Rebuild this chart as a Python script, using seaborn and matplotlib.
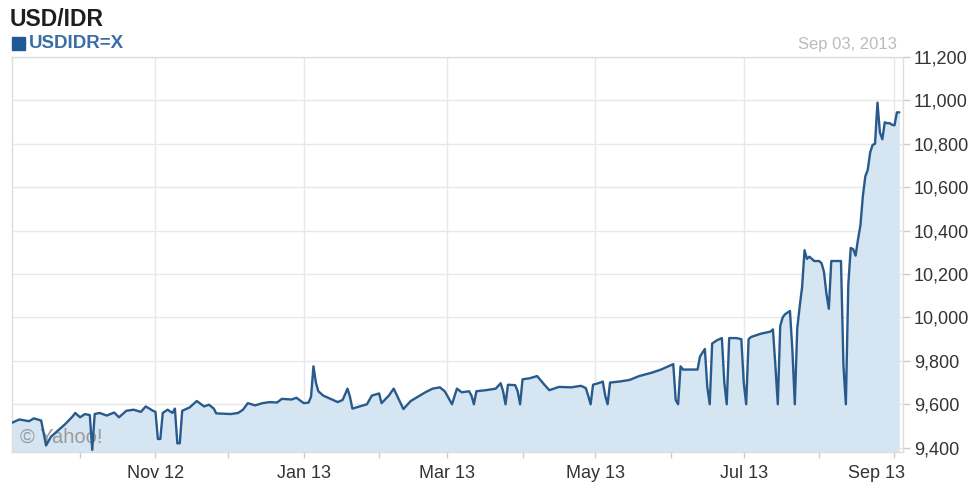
import pandas as pd
import matplotlib.pyplot as plt
import matplotlib.dates as mdates
import matplotlib.transforms as mtransforms
from matplotlib.ticker import FuncFormatter
from matplotlib.patches import Rectangle
import seaborn as sns

sns.set_style('white')
plt.rcParams['font.family'] = ['Liberation Sans', 'DejaVu Sans']

# USD/IDR daily quotes (Sep 2012 - Sep 2013)
dates = [
    '2012-09-03', '2012-09-06', '2012-09-10', '2012-09-12', '2012-09-14', '2012-09-15',
    '2012-09-17', '2012-09-19', '2012-09-22', '2012-09-25', '2012-09-28', '2012-09-29',
    '2012-10-01', '2012-10-03', '2012-10-05', '2012-10-06', '2012-10-07', '2012-10-09',
    '2012-10-12', '2012-10-15', '2012-10-17', '2012-10-20', '2012-10-23', '2012-10-26',
    '2012-10-28', '2012-10-31',
    '2012-11-01', '2012-11-02', '2012-11-03', '2012-11-04', '2012-11-06', '2012-11-08',
    '2012-11-09', '2012-11-10', '2012-11-11', '2012-11-12', '2012-11-15', '2012-11-18',
    '2012-11-21', '2012-11-23', '2012-11-25', '2012-11-26',
    '2012-12-02', '2012-12-05', '2012-12-07', '2012-12-09', '2012-12-12', '2012-12-15',
    '2012-12-18', '2012-12-21', '2012-12-23', '2012-12-27', '2012-12-29',
    '2013-01-01', '2013-01-03', '2013-01-04', '2013-01-05', '2013-01-06', '2013-01-07',
    '2013-01-09', '2013-01-12', '2013-01-15', '2013-01-17', '2013-01-19', '2013-01-20',
    '2013-01-21', '2013-01-24', '2013-01-27', '2013-01-29',
    '2013-02-01', '2013-02-02', '2013-02-05', '2013-02-07', '2013-02-09', '2013-02-11',
    '2013-02-14', '2013-02-17', '2013-02-20', '2013-02-23', '2013-02-26', '2013-02-28',
    '2013-03-02', '2013-03-03', '2013-03-05', '2013-03-07', '2013-03-10', '2013-03-11',
    '2013-03-12', '2013-03-13', '2013-03-17', '2013-03-21', '2013-03-23', '2013-03-24',
    '2013-03-25', '2013-03-26', '2013-03-29', '2013-03-30', '2013-03-31',
    '2013-04-01', '2013-04-04', '2013-04-07', '2013-04-10', '2013-04-12', '2013-04-16',
    '2013-04-21', '2013-04-25', '2013-04-27', '2013-04-28', '2013-04-29', '2013-04-30',
    '2013-05-03', '2013-05-04', '2013-05-05', '2013-05-06', '2013-05-07', '2013-05-11',
    '2013-05-15', '2013-05-19', '2013-05-24', '2013-05-28',
    '2013-06-01', '2013-06-02', '2013-06-03', '2013-06-04', '2013-06-05', '2013-06-06',
    '2013-06-12', '2013-06-13', '2013-06-15', '2013-06-16', '2013-06-17', '2013-06-18',
    '2013-06-20', '2013-06-22', '2013-06-23', '2013-06-24', '2013-06-25', '2013-06-28',
    '2013-06-30',
    '2013-07-01', '2013-07-02', '2013-07-03', '2013-07-04', '2013-07-08', '2013-07-12',
    '2013-07-13', '2013-07-14', '2013-07-15', '2013-07-16', '2013-07-17', '2013-07-18',
    '2013-07-20', '2013-07-21', '2013-07-22', '2013-07-23', '2013-07-24', '2013-07-25',
    '2013-07-26', '2013-07-27', '2013-07-28', '2013-07-30',
    '2013-08-01', '2013-08-02', '2013-08-03', '2013-08-04', '2013-08-05', '2013-08-06',
    '2013-08-08', '2013-08-10', '2013-08-11', '2013-08-12', '2013-08-13', '2013-08-14',
    '2013-08-15', '2013-08-16', '2013-08-17', '2013-08-18', '2013-08-19', '2013-08-20',
    '2013-08-21', '2013-08-22', '2013-08-23', '2013-08-24', '2013-08-25', '2013-08-26',
    '2013-08-27', '2013-08-28', '2013-08-29', '2013-08-30', '2013-08-31',
    '2013-09-01', '2013-09-02', '2013-09-03',
]
rates = [
    9515, 9530, 9522, 9535, 9528, 9525,
    9410, 9450, 9480, 9510, 9545, 9560,
    9540, 9555, 9550, 9390, 9555, 9560,
    9548, 9562, 9540, 9570, 9575, 9565,
    9590, 9570,
    9565, 9440, 9440, 9560, 9575, 9560,
    9580, 9420, 9420, 9570, 9585, 9615,
    9590, 9598, 9580, 9558,
    9555, 9560, 9575, 9605, 9595, 9605,
    9610, 9608, 9625, 9622, 9630,
    9605, 9608, 9635, 9775, 9700, 9660,
    9640, 9625, 9610, 9620, 9672, 9635,
    9580, 9590, 9600, 9640,
    9650, 9605, 9640, 9672, 9625, 9578,
    9615, 9635, 9655, 9672, 9678, 9660,
    9620, 9600, 9672, 9655, 9660, 9640,
    9600, 9660, 9665, 9672, 9697, 9660,
    9600, 9690, 9688, 9660, 9600,
    9715, 9720, 9730, 9690, 9665, 9680,
    9678, 9685, 9675, 9640, 9600, 9690,
    9700, 9705, 9640, 9600, 9700, 9705,
    9712, 9730, 9745, 9760,
    9780, 9785, 9620, 9600, 9775, 9760,
    9760, 9820, 9855, 9680, 9600, 9880,
    9895, 9905, 9700, 9600, 9905, 9905,
    9900,
    9700, 9600, 9900, 9910, 9925, 9935,
    9945, 9780, 9600, 9960, 10000, 10015,
    10030, 9850, 9600, 9950, 10050, 10140,
    10310, 10270, 10280, 10260,
    10260, 10250, 10210, 10110, 10040, 10260,
    10260, 10260, 9780, 9600, 10150, 10320,
    10315, 10285, 10360, 10425, 10560, 10650,
    10680, 10760, 10795, 10800, 10990, 10853,
    10821, 10899, 10895, 10895, 10888,
    10885, 10945, 10945,
]
y_ticks = [9400, 9600, 9800, 10000, 10200, 10400, 10600, 10800, 11000, 11200]
labeled_months = [1, 3, 5, 7, 9, 11]

line_color = '#285a8c'
fill_color = '#d6e5f2'
grid_color = '#e8e8e8'

df = pd.DataFrame({'date': pd.to_datetime(dates), 'rate': rates})

fig = plt.figure(figsize=(9.78, 4.82), dpi=100)
ax = fig.add_axes([0.0123, 0.0622, 0.911, 0.8195])

ax.fill_between(df['date'], df['rate'], 9000, color=fill_color, linewidth=0, zorder=1)
ax.text(0.009, 0.038, '\u00a9 Yahoo!', transform=ax.transAxes, fontsize=14.5,
        color='#9a9a9a', va='center', ha='left', zorder=2)
sns.lineplot(data=df, x='date', y='rate', ax=ax, color=line_color,
             linewidth=1.7, zorder=3)

ax.set_xlim(pd.Timestamp('2012-09-03'), pd.Timestamp('2013-09-04 12:00'))
ax.set_ylim(9380, 11200)
ax.set_xlabel('')
ax.set_ylabel('')

# axes styling
ax.yaxis.tick_right()
ax.set_yticks(y_ticks)
ax.yaxis.set_major_formatter(FuncFormatter(lambda v, p: f'{v:,.0f}'))
ax.xaxis.set_major_locator(mdates.MonthLocator(bymonth=labeled_months))
ax.xaxis.set_minor_locator(mdates.MonthLocator())
ax.xaxis.set_major_formatter(mdates.DateFormatter('%b %y'))
ax.tick_params(axis='y', which='both', right=True, left=False, length=5, width=1,
               color='#cccccc', labelsize=13, labelcolor='#333333', pad=3)
ax.tick_params(axis='x', which='both', bottom=True, length=4, width=1,
               color='#cccccc', labelsize=13, labelcolor='#333333', pad=5)
ax.grid(True, which='major', color=grid_color, linewidth=1, zorder=0)
ax.set_axisbelow(True)
for s in ax.spines.values():
    s.set_color('#dddddd')
    s.set_linewidth(1)

# last month label sits left of its tick, as in the Yahoo chart
fig.canvas.draw()
last = [t for t in ax.xaxis.get_major_ticks() if t.label1.get_text()][-1]
last.label1.set_horizontalalignment('right')
last.label1.set_transform(last.label1.get_transform() +
                          mtransforms.ScaledTranslation(11 / 100, 0, fig.dpi_scale_trans))

# header
fig.text(10 / 978, 1 - 20 / 482, 'USD/IDR', fontsize=16.5, fontweight='bold',
         color='#1e1e1e', va='center', ha='left')
fig.patches.append(Rectangle((12 / 978, 1 - 50 / 482), 13 / 978, 13 / 482,
                             transform=fig.transFigure, color='#1f5a96'))
fig.text(29 / 978, 1 - 43 / 482, 'USDIDR=X', fontsize=13.5, fontweight='bold',
         color='#3a6ea5', va='center', ha='left')
fig.text(897 / 978, 1 - 44 / 482, 'Sep 03, 2013', fontsize=12,
         color='#bbbbbb', va='center', ha='right')

plt.savefig('out.png', dpi=100)
